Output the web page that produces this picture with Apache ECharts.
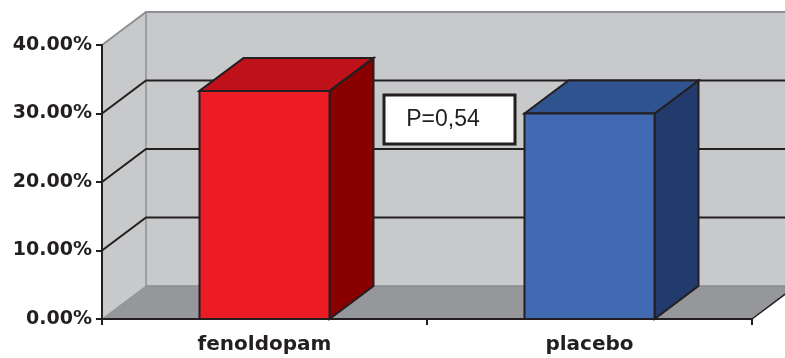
<!DOCTYPE html>
<html>
<head>
<meta charset="utf-8">
<script src="https://cdn.jsdelivr.net/npm/echarts@6/dist/echarts.min.js"></script>
<style>
  html, body { margin: 0; padding: 0; background: #fff; }
  #chart { width: 785px; height: 358px; }
</style>
</head>
<body>
<div id="chart"></div>
<script>
// data
const categories = ['fenoldopam', 'placebo'];
const values = [33.3, 30.0];
const yTicks = [0, 10, 20, 30, 40];
const pText = 'P=0,54';

// 3d look: offset of the back plane
const DX = 44;
const DY = -33;
const faceColors = [
  { front: '#ed1c24', top: '#be111a', side: '#8a0000' },
  { front: '#416ab3', top: '#30548f', side: '#223b6c' }
];
const edge = '#231f20';

let myCharts = echarts.init(document.getElementById('chart'));

function wallItem(params, api) {
  let cs = params.coordSys;
  let x0 = cs.x, x1 = cs.x + cs.width;
  let yT = cs.y, yB = cs.y + cs.height;
  return {
    type: 'group',
    children: [
      // back wall
      { type: 'rect', shape: { x: x0 + DX, y: yT + DY, width: x1 - x0, height: yB - yT },
        style: { fill: '#c8c9cb' } },
      // left wall
      { type: 'polygon', shape: { points: [[x0, yT], [x0 + DX, yT + DY], [x0 + DX, yB + DY], [x0, yB]] },
        style: { fill: '#c8c9cb' } },
      // floor
      { type: 'polygon', shape: { points: [[x0, yB], [x0 + DX, yB + DY], [x1 + DX, yB + DY], [x1, yB]] },
        style: { fill: '#96979a' } },
      { type: 'line', shape: { x1: x0 + DX, y1: yT + DY, x2: x0 + DX, y2: yB + DY },
        style: { stroke: '#8e8f92', lineWidth: 1.5 } },
      { type: 'line', shape: { x1: x0 + DX, y1: yB + DY, x2: x1 + DX, y2: yB + DY },
        style: { stroke: '#8a8b8e', lineWidth: 1.5 } },
      { type: 'line', shape: { x1: x0, y1: yB, x2: x0 + DX, y2: yB + DY },
        style: { stroke: '#8e8f92', lineWidth: 1 } },
      { type: 'line', shape: { x1: x1, y1: yB, x2: x1 + DX, y2: yB + DY },
        style: { stroke: edge, lineWidth: 1.5 } }
    ]
  };
}

function gridItem(params, api) {
  let v = api.value(1);
  if (v === 0) return null;
  let cs = params.coordSys;
  let y = api.coord([0, v])[1];
  let x0 = cs.x;
  let x1 = cs.x + cs.width;
  let top = v === yTicks[yTicks.length - 1];
  return {
    type: 'polyline',
    shape: { points: [[x0, y], [x0 + DX, y + DY], [x1 + DX, y + DY]] },
    style: { fill: null, stroke: top ? '#8e8f92' : edge, lineWidth: 2 }
  };
}

function barItem(params, api) {
  let idx = params.dataIndex;
  let c = faceColors[idx];
  let topPt = api.coord([api.value(0), api.value(1)]);
  let basePt = api.coord([api.value(0), 0]);
  let w = api.size([1, 0])[0] * 0.4;
  let xa = topPt[0] - w / 2, xb = topPt[0] + w / 2;
  let yt = topPt[1], yb = basePt[1];
  let st = { stroke: edge, lineWidth: 2, lineJoin: 'miter' };
  return {
    type: 'group',
    children: [
      { type: 'polygon', shape: { points: [[xb, yt], [xb + DX, yt + DY], [xb + DX, yb + DY], [xb, yb]] },
        style: Object.assign({ fill: c.side }, st) },
      { type: 'polygon', shape: { points: [[xa, yt], [xa + DX, yt + DY], [xb + DX, yt + DY], [xb, yt]] },
        style: Object.assign({ fill: c.top }, st) },
      { type: 'rect', shape: { x: xa, y: yt, width: xb - xa, height: yb - yt },
        style: Object.assign({ fill: c.front }, st) }
    ]
  };
}

let options = {
  animation: false,
  backgroundColor: '#fff',
  grid: { left: 102, top: 45, width: 650, height: 274 },
  xAxis: {
    type: 'category',
    data: categories,
    z: 10,
    axisLine: { lineStyle: { color: edge, width: 2 } },
    axisTick: { show: true, length: 6, lineStyle: { color: edge, width: 2 } },
    axisLabel: {
      margin: 16,
      color: edge,
      fontFamily: 'DejaVu Sans',
      fontWeight: 'bold',
      fontSize: 20
    },
    splitLine: { show: false }
  },
  yAxis: {
    type: 'value',
    min: 0,
    max: 40,
    interval: 10,
    z: 10,
    axisLine: { show: true, lineStyle: { color: edge, width: 2 } },
    axisTick: { show: true, length: 6, lineStyle: { color: edge, width: 2 } },
    axisLabel: {
      margin: 10,
      color: edge,
      fontFamily: 'DejaVu Sans',
      fontWeight: 'bold',
      fontSize: 19,
      formatter: function (v) { return v.toFixed(2) + '%'; }
    },
    splitLine: { show: false }
  },
  series: [
    { name: 'walls', type: 'custom', z: 1, renderItem: wallItem, data: [[0, 0]] },
    { name: 'grid', type: 'custom', z: 2, renderItem: gridItem,
      data: yTicks.map(function (v) { return [0, v]; }) },
    { name: 'bars', type: 'custom', z: 3, renderItem: barItem,
      data: categories.map(function (c, i) { return [i, values[i]]; }) }
  ],
  // p value box
  graphic: [
    { type: 'rect', x: 384, y: 95, z: 20,
      shape: { x: 0, y: 0, width: 131, height: 49 },
      style: { fill: '#fff', stroke: edge, lineWidth: 3 } },
    { type: 'text', x: 443, y: 120, z: 21,
      style: { text: pText, fill: edge, font: '23px "Liberation Sans", Arial, sans-serif',
               align: 'center', verticalAlign: 'middle' } }
  ]
};

myCharts.setOption(options);
</script>
</body>
</html>
